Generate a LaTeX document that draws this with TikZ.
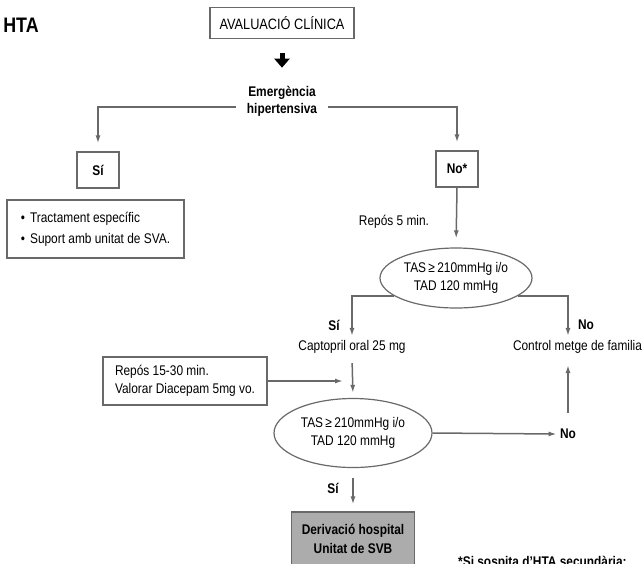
\documentclass[tikz,border=0pt]{standalone}
\usepackage{fontspec}
\setmainfont{Liberation Sans}[FakeStretch=0.85]
\usetikzlibrary{arrows.meta,shapes.geometric}
\definecolor{linegray}{RGB}{105,105,105}
\definecolor{boxgray}{RGB}{172,172,172}
\begin{document}
\begin{tikzpicture}[x=1pt,y=-1pt,font=\fontsize{14}{18}\selectfont,
	box/.style={draw=linegray,line width=1.2pt},
	cond/.style={ellipse,draw=linegray,line width=1.2pt,align=center,inner sep=0pt},
	line/.style={draw=linegray,line width=1.5pt,-{Latex[length=8pt,width=5pt]}},
	lbl/.style={font=\bfseries\fontsize{14}{18}\selectfont}]
		\useasboundingbox (0,0) rectangle (644,563);
		\node[font=\bfseries\fontsize{21}{24}\selectfont] (hta) at (21,25) {HTA};
		\node[box,font=\fontsize{15}{18}\selectfont,minimum width=144pt,minimum height=31pt] (aval) at (282,23) {AVALUACIÓ CLÍNICA};
		\node[lbl,font=\bfseries\fontsize{14}{17}\selectfont,align=center,inner xsep=11pt,inner ysep=2pt] (emerg) at (282,101) {Emergència\\hipertensiva};
		\draw[line width=5pt,-{Triangle[length=9pt,width=15pt]},shorten <=14pt,shorten >=16pt] (aval) -- (emerg);
		\node[box,lbl,minimum width=42pt,minimum height=36pt] (si1) at (98,170) {Sí};
		\node[box,lbl,minimum width=42pt,minimum height=36pt] (no1) at (457,169) {No*};
		\draw[line,shorten >=8pt] ([yshift=-6pt]emerg.west) -| (si1.north);
		\draw[line,shorten >=8pt] ([yshift=-6pt]emerg.east) -| (no1.north);
		\node[box,font=\fontsize{14}{21}\selectfont,align=left,minimum width=177pt,minimum height=58pt] (trac) at (95.5,229) {\textbullet\hspace{5pt}Tractament específic\\\textbullet\hspace{5pt}Suport amb unitat de SVA.};
		\node (rep5) at (394,222) {Repós 5 min.};
		\node[cond,minimum width=152pt,minimum height=60pt] (tas1) at (456,278) {TAS\,≥\,210mmHg i/o\\TAD 120 mmHg};
		\draw[line,shorten >=9pt] (no1.south) -- (tas1.north);
		\node (capt) at (352,347) {Captopril oral 25 mg};
		\node (ctrl) at (577.5,347) {Control metge de familia};
		\node[lbl] (si2) at (334,325) {Sí};
		\node[lbl] (no2) at (586,325) {No};
		\draw[line,shorten >=1pt] (tas1.196) -| (capt.north);
		\draw[line,shorten >=1pt] (tas1.-16) -| ([xshift=-9.5pt]ctrl.north);
		\node[box,align=left,minimum width=164pt,minimum height=48pt] (rep15) at (185,381) {Repós 15-30 min.\\Valorar Diacepam 5mg vo.};
		\coordinate (join) at (343,381);
		\draw[line] (rep15.east) -- (join);
		\node[cond,minimum width=158pt,minimum height=69pt] (tas2) at (353,433) {TAS\,≥\,210mmHg i/o\\TAD 120 mmHg};
		\draw[line,shorten <=6pt,shorten >=5pt] (capt.south) -- (tas2.north);
		\node[lbl] (no3) at (568,434) {No};
		\draw[line] (tas2.east) -- (no3.west);
		\coordinate (up) at (568,413);
		\draw[line,shorten >=8pt] (up) -- (up |- ctrl.south);
		\node[lbl] (si3) at (333,488) {Sí};
		\node[box,lbl,fill=boxgray,font=\bfseries\fontsize{14}{19}\selectfont,align=center,minimum width=123pt,minimum height=54pt] (deriv) at (353,539) {Derivació hospital\\Unitat de SVB};
		\draw[line,shorten <=10pt,shorten >=7pt] (tas2.south) -- (deriv.north);
		\node[lbl,anchor=base west,inner sep=0pt] (nota) at (458,566) {*Si sospita d’HTA secundària:};
\end{tikzpicture}
\end{document}
